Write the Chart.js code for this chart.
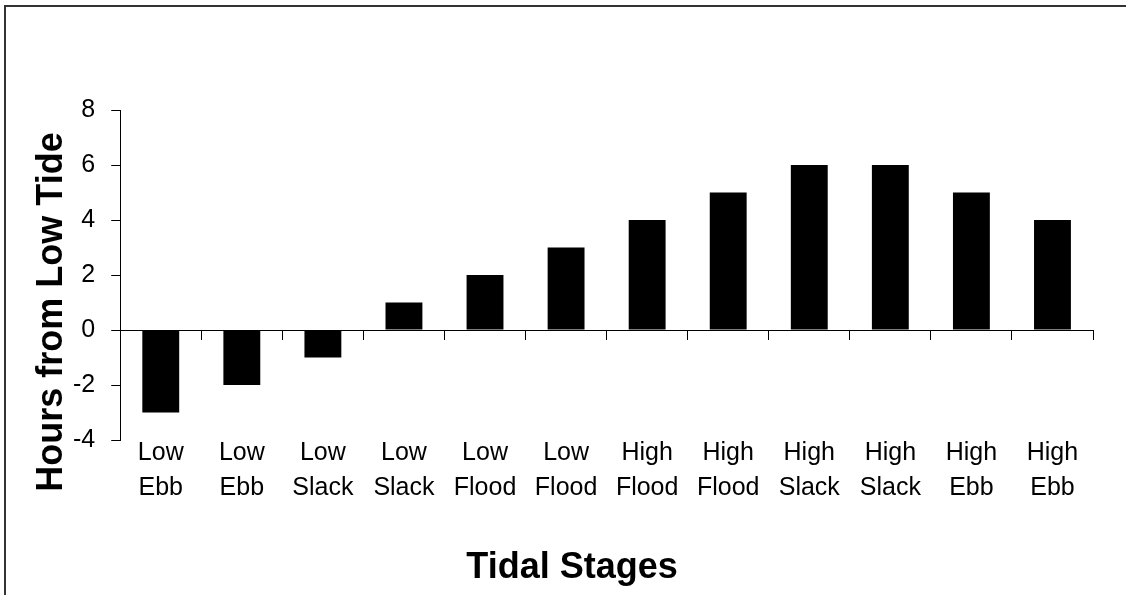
<!DOCTYPE html>
<html lang="en">
<head>
<meta charset="UTF-8">
<title>Tidal Stages</title>
<script src="https://cdn.jsdelivr.net/npm/chart.js"></script>
<style>
  html, body { margin: 0; padding: 0; background: #fff; overflow: hidden; }
  .wrap { position: relative; width: 1126px; height: 595px; }
  .frame {
    position: absolute; left: 4px; top: 5px; width: 1200px; height: 700px;
    border-top: 2px solid #333; border-left: 2px solid #333;
  }
  canvas { position: absolute; left: 0; top: 0; }
</style>
</head>
<body>
<div class="wrap">
  <div class="frame"></div>
  <canvas id="chart" width="1126" height="595"></canvas>
</div>
<script>
// data
const stages = [
  ['Low', 'Ebb'], ['Low', 'Ebb'], ['Low', 'Slack'], ['Low', 'Slack'],
  ['Low', 'Flood'], ['Low', 'Flood'], ['High', 'Flood'], ['High', 'Flood'],
  ['High', 'Slack'], ['High', 'Slack'], ['High', 'Ebb'], ['High', 'Ebb']
];
const hoursFromLow = [-3, -2, -1, 1, 2, 3, 4, 5, 6, 6, 5, 4];
const yMin = -4, yMax = 8, yStep = 2;
const xTitle = 'Tidal Stages';
const yTitle = 'Hours from Low Tide';

const FONT = "'Liberation Sans', Arial, sans-serif";

// axis titles sit off-centre in the original, so draw them ourselves
const axisTitles = {
  id: 'axisTitles',
  afterDraw(chart) {
    const { ctx, chartArea } = chart;
    ctx.save();
    ctx.fillStyle = '#000';
    ctx.font = 'bold 36px ' + FONT;
    ctx.textAlign = 'center';
    ctx.textBaseline = 'alphabetic';
    ctx.fillText(xTitle, chart.width / 2 + 9, chart.height - 17);
    ctx.translate(chartArea.left - 58, (chartArea.top + chartArea.bottom) / 2 + 37);
    ctx.rotate(-Math.PI / 2);
    ctx.fillText(yTitle, 0, 0);
    ctx.restore();
  }
};

new Chart(document.getElementById('chart'), {
  type: 'bar',
  data: {
    labels: stages,
    datasets: [{
      data: hoursFromLow,
      backgroundColor: '#000',
      borderWidth: 0,
      barPercentage: 0.455,
      categoryPercentage: 1.0,
      xAxisID: 'x',
      yAxisID: 'y'
    }]
  },
  plugins: [axisTitles],
  options: {
    responsive: false,
    animation: false,
    devicePixelRatio: 1,
    layout: { padding: { left: 57, right: 33, top: 110, bottom: 93 } },
    plugins: { legend: { display: false }, tooltip: { enabled: false } },
    scales: {
      x: {
        position: 'bottom',
        offset: true,
        grid: { display: false, drawTicks: false },
        border: { display: false },
        ticks: {
          color: '#000',
          font: { family: FONT, size: 25, lineHeight: 1.4 },
          padding: -4,
          maxRotation: 0,
          autoSkip: false
        }
      },
      // axis line through zero with the category tick marks
      x2: {
        type: 'category',
        labels: stages,
        position: { y: 0 },
        offset: true,
        grid: {
          offset: true,
          drawOnChartArea: false,
          tickLength: 9,
          color: '#000',
          lineWidth: 1
        },
        border: { display: true, color: '#000', width: 1 },
        ticks: { display: false }
      },
      y: {
        min: yMin,
        max: yMax,
        ticks: {
          stepSize: yStep,
          color: '#000',
          font: { family: FONT, size: 25 },
          padding: 16
        },
        grid: {
          drawOnChartArea: false,
          tickLength: 9,
          color: '#000',
          lineWidth: 1
        },
        border: { display: true, color: '#000', width: 1 }
      }
    }
  }
});
</script>
</body>
</html>
